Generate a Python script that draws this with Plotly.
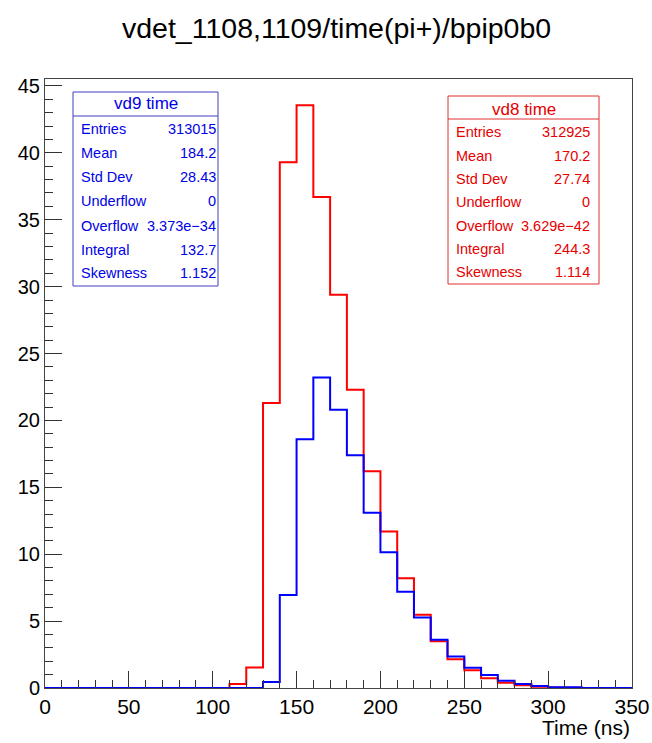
import plotly.graph_objects as go

# ---- data ----
bin_low = [0, 10, 20, 30, 40, 50, 60, 70, 80, 90, 100, 110, 120, 130, 140, 150, 160,
           170, 180, 190, 200, 210, 220, 230, 240, 250, 260, 270, 280, 290, 300, 310,
           320, 330, 340]
bin_width = 10
vd8_counts = [0, 0, 0, 0, 0, 0, 0, 0, 0, 0, 0, 0.3, 1.54, 21.3, 39.3, 43.55, 36.7,
              29.4, 22.3, 16.2, 11.7, 8.2, 5.47, 3.5, 2.15, 1.33, 0.73, 0.4, 0.2, 0.1,
              0.04, 0.02, 0, 0, 0]
vd9_counts = [0, 0, 0, 0, 0, 0, 0, 0, 0, 0, 0, 0, 0, 0.45, 6.95, 18.6, 23.2,
              20.8, 17.4, 13.1, 10.15, 7.2, 5.27, 3.6, 2.35, 1.52, 0.97, 0.55, 0.3, 0.15,
              0.06, 0.05, 0, 0, 0]

stat_labels = ["Entries", "Mean", "Std Dev", "Underflow", "Overflow", "Integral", "Skewness"]
vd9_stats = ["313015", "184.2", "28.43", "0", "3.373e\u221234", "132.7", "1.152"]
vd8_stats = ["312925", "170.2", "27.74", "0", "3.629e\u221242", "244.3", "1.114"]

title_text = "vdet_1108,1109/time(pi+)/bpip0b0"
x_title = "Time (ns)"

# ---- geometry helpers (pixel -> paper) ----
W, H = 652, 743
L, R, T, B = 45, 632, 79, 688


def px(x):
    return (x - L) / (R - L)


def py(y):
    return (B - y) / (B - T)


def step(vals):
    xs = bin_low + [bin_low[-1] + bin_width]
    ys = vals + [vals[-1]]
    return xs, ys


fig = go.Figure()
for vals, col in [(vd8_counts, "#ff0000"), (vd9_counts, "#0000ff")]:
    xs, ys = step(vals)
    fig.add_trace(go.Scatter(x=xs, y=ys, mode="lines", line=dict(color=col, width=2, shape="hv"),
                             showlegend=False, hoverinfo="skip"))

sans = "Liberation Sans, Arial, Helvetica, sans-serif"

shapes = []
annotations = []


def stat_box(left, right, top, bottom, sep, title, title_y, rows_y, text_l, text_r, labels, vals, tcol, bcol):
    shapes.append(dict(type="rect", xref="paper", yref="paper", x0=px(left), x1=px(right),
                       y0=py(bottom), y1=py(top), line=dict(color=bcol, width=1),
                       fillcolor="white", layer="above"))
    shapes.append(dict(type="line", xref="paper", yref="paper", x0=px(left), x1=px(right),
                       y0=py(sep), y1=py(sep), line=dict(color=bcol, width=1), layer="above"))
    annotations.append(dict(xref="paper", yref="paper", x=px((left + right) / 2), y=py(title_y),
                            text=title, showarrow=False, xanchor="center", yanchor="middle",
                            font=dict(family=sans, size=17, color=tcol)))
    for lab, v, yy in zip(labels, vals, rows_y):
        annotations.append(dict(xref="paper", yref="paper", x=px(text_l), y=py(yy), text=lab,
                                showarrow=False, xanchor="left", yanchor="middle",
                                font=dict(family=sans, size=14.5, color=tcol)))
        annotations.append(dict(xref="paper", yref="paper", x=px(text_r), y=py(yy), text=v,
                                showarrow=False, xanchor="right", yanchor="middle",
                                font=dict(family=sans, size=14.5, color=tcol)))


stat_box(73, 218, 92, 286, 116, "vd9 time", 104, [129, 153, 177, 201, 226, 250, 273],
         79, 218, stat_labels, vd9_stats, "#0000e6", "#4040c0")
stat_box(448, 599, 96, 284, 119, "vd8 time", 109, [132, 156, 179, 202, 226, 249, 272],
         454, 592, stat_labels, vd8_stats, "#e60000", "#e03030")

annotations.append(dict(xref="paper", yref="paper", x=px(336.5), y=py(28), text=title_text,
                        showarrow=False, xanchor="center", yanchor="middle",
                        font=dict(family=sans, size=28.5, color="black")))
annotations.append(dict(xref="paper", yref="paper", x=px(632), y=py(727), text=x_title,
                        showarrow=False, xanchor="right", yanchor="middle",
                        font=dict(family=sans, size=21, color="black")))

fig.update_layout(
    width=W, height=H,
    margin=dict(l=L, r=W - R, t=T, b=H - B, pad=0, autoexpand=False),
    paper_bgcolor="white", plot_bgcolor="white",
    shapes=shapes, annotations=annotations,
    xaxis=dict(range=[0, 350], dtick=50, tick0=0, ticks="inside", ticklen=17, tickwidth=1,
               tickcolor="#333", showline=True, linecolor="#444", linewidth=1, mirror=True,
               showgrid=False, zeroline=False, automargin=False,
               minor=dict(dtick=10, ticks="inside", ticklen=8, tickcolor="#333", showgrid=False),
               tickfont=dict(family=sans, size=21, color="black")),
    yaxis=dict(range=[0, 45.52], dtick=5, tick0=0, ticks="inside", ticklen=17, tickwidth=1,
               tickcolor="#333", showline=True, linecolor="#444", linewidth=1, mirror=True,
               showgrid=False, zeroline=False, automargin=False,
               minor=dict(dtick=1, ticks="inside", ticklen=8, tickcolor="#333", showgrid=False),
               tickfont=dict(family=sans, size=20, color="black")),
)

fig.write_html("out.html")
